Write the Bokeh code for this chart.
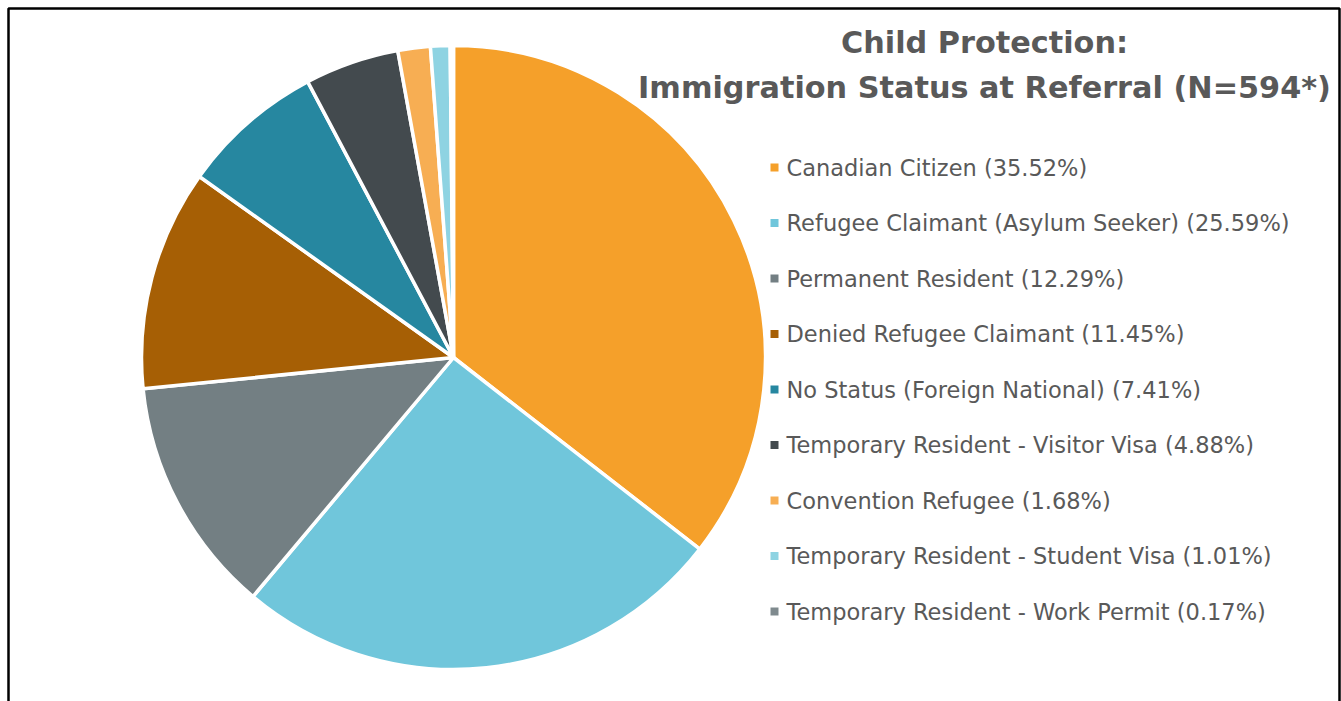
import numpy as np
from bokeh.plotting import figure
from bokeh.models import Range1d, ColumnDataSource
from bokeh.core.properties import value
from bokeh.embed import file_html
from bokeh.resources import INLINE

categories = [
    "Canadian Citizen",
    "Refugee Claimant (Asylum Seeker)",
    "Permanent Resident",
    "Denied Refugee Claimant",
    "No Status (Foreign National)",
    "Temporary Resident - Visitor Visa",
    "Convention Refugee",
    "Temporary Resident - Student Visa",
    "Temporary Resident - Work Permit",
]
percents = [35.52, 25.59, 12.29, 11.45, 7.41, 4.88, 1.68, 1.01, 0.17]
colors = ["#F5A02A", "#70C6DB", "#737F83", "#A65F05", "#2687A0",
          "#434A4E", "#F7AE53", "#8ED3E2", "#7F8A8E"]
title_lines = ["Child Protection:", "Immigration Status at Referral (N=594*)"]

W, H = 1341, 701
p = figure(width=W, height=H, output_backend="svg", toolbar_location=None,
           x_range=Range1d(0, W), y_range=Range1d(0, H), min_border=0)
p.axis.visible = False
p.grid.visible = False
p.outline_line_color = None
p.background_fill_color = "white"
p.border_fill_color = "white"

# frame
p.quad(left=[8], right=[1339], top=[H - 8], bottom=[-10], fill_color=None,
       line_color="black", line_width=2.5)

# pie
cx, cy, r = 453, H - 357, 312
frac = np.array(percents) / sum(percents)
cum = np.concatenate([[0], np.cumsum(frac)])
start = np.pi / 2 - 2 * np.pi * cum[:-1]
end = np.pi / 2 - 2 * np.pi * cum[1:]
src = ColumnDataSource(dict(start=start, end=end, color=colors))
p.wedge(x=cx, y=cy, radius=r, start_angle="start", end_angle="end",
        direction="clock", fill_color="color", line_color="white",
        line_width=3.5, source=src)

# title
p.text(x=[984, 984], y=[H - 42, H - 87], text=title_lines,
       text_font=value("DejaVu Sans"), text_font_style="bold", text_font_size="30.3px",
       text_color="#595959", text_align="center", text_baseline="middle")

# legend
ly = H - (167 + 55.5 * np.arange(len(categories)))
labels = [f"{c} ({v:.2f}%)" for c, v in zip(categories, percents)]
p.rect(x=[774] * len(categories), y=ly, width=8, height=8,
       fill_color=colors, line_color=None)
p.text(x=[786] * len(categories), y=ly, text=labels,
       text_font=value("DejaVu Sans"), text_font_size="22.5px", text_color="#595959",
       text_align="left", text_baseline="middle")

open("out.html", "w").write(file_html(p, INLINE))
